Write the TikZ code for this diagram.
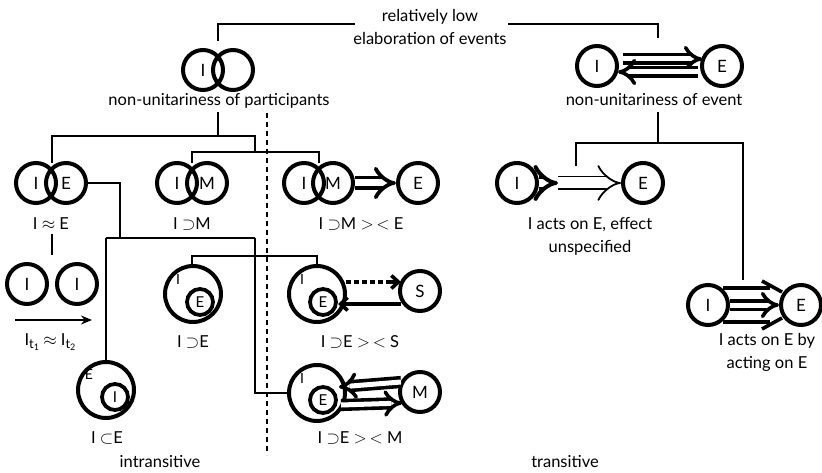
\documentclass[tikz,border=0pt]{standalone}
\usepackage{fontspec}
\setmainfont{Lato}
\usetikzlibrary{arrows.meta}
\begin{document}
\begin{tikzpicture}[x=1pt,y=-1pt,
 ci/.style={circle,draw,line width=4pt,minimum size=40pt,inner sep=0pt,font=\fontsize{17}{17}\selectfont},
 big/.style={circle,draw,line width=4pt,minimum size=56pt,inner sep=0pt},
 small/.style={circle,draw,line width=3.8pt,minimum size=26pt,inner sep=0pt,font=\fontsize{15}{15}\selectfont},
 tiny/.style={inner sep=0pt,font=\fontsize{14}{14}\selectfont},
 conn/.style={line width=1.8pt},
 lab/.style={font=\fontsize{16.5}{23}\selectfont, align=center, inner sep=0pt},
 dbl/.style={double, double distance=5pt, line width=3.6pt, -{Implies}},
 barb/.style={line width=3.6pt, -{Straight Barb[length=7pt,width=13pt,line width=3.6pt]}},
]
\useasboundingbox (0,0) rectangle (822,473);
% top label
\node[lab] (top) at (430,27) {relatively low\\elaboration of events};
\coordinate (t1) at (218,24); \coordinate (t2) at (355,24);
\coordinate (t3) at (508,24); \coordinate (t4) at (658,24);
\draw[conn] (218,41) -- (t1) -- (t2);
\draw[conn] (t3) -- (t4) -- (658,38);
% participants
\node[ci] (PI) at (203,70) {I};
\node[ci] (PE) at (233,70) {};
\node[lab] (Plab) at (219,101) {non-unitariness of participants};
\draw[conn] (218,112) -- (218,136);
\draw[conn] (52,163) -- (52,136) -- (255,136) -- (255,152);
\draw[conn] (192,163) -- (192,152) -- (319,152) -- (319,163);
% dashed divider
\draw[line width=1.2pt, dash pattern=on 5pt off 4pt] (267,113) -- (267,455);
% row 2
\node[ci] (A1) at (36,183) {I};
\node[ci] (A2) at (66,183) {E};
\node[lab] (Alab) at (51,224) {I $\approx$ E};
\node[ci] (B1) at (177,183) {I};
\node[ci] (B2) at (207,183) {M};
\node[lab] (Blab) at (192,224) {I $\supset$M};
\node[ci] (C1) at (304,183) {I};
\node[ci] (C2) at (333,183) {M};
\node[ci] (C3) at (418,183) {E};
\node[lab] (Clab) at (361,224) {I $\supset$M $>$\,$<$ E};
\draw[dbl, double distance=7pt, line width=3.8pt] (C2.east) -- (C3.west);
% connectors from I~E
\draw[conn] (A2.east) -- (120,183) -- (120,238);
\draw[conn] (106,238) -- (255,238);
\draw[conn] (52,234) -- (52,255);
% row 3
\node[ci] (D1) at (27,284) {I};
\node[ci] (D2) at (77,284) {I};
\coordinate (d1) at (15,320); \coordinate (d2) at (92,320);
\draw[line width=1.8pt, -{Stealth[length=11pt,width=9pt]}] (d1) -- (d2);
\node[lab] (Dlab) at (50,342) {I\raisebox{-3pt}{\fontsize{13}{13}\selectfont t\raisebox{-2pt}{\fontsize{9}{9}\selectfont 1}} $\approx$ I\raisebox{-3pt}{\fontsize{13}{13}\selectfont t\raisebox{-2pt}{\fontsize{9}{9}\selectfont 2}}};
% I subset E
\node[big] (G) at (106,390) {};
\node[small] (Gi) at (115,397) {I};
\node[tiny] (Ge) at (89,374) {E};
\node[lab] (Glab) at (107,438) {I $\subset$E};
\draw[conn] (106,238) -- (G.north);
\node[lab] (intr) at (160,462) {intransitive};
% I sup E
\node[big] (H1) at (193,294) {};
\node[small] (H1e) at (200,302) {E};
\node[tiny] (H1i) at (178,279) {I};
\node[lab] (H1lab) at (193,342) {I $\supset$E};
% I sup E >< S
\node[big] (H2) at (317,294) {};
\node[small] (H2e) at (323,302) {E};
\node[tiny] (H2i) at (302,279) {I};
\node[ci] (S) at (420,291) {S};
\node[lab] (H2lab) at (360,342) {I $\supset$E $>$\,$<$ S};
\draw[conn] (192,266) -- (192,256) -- (317,256) -- (317,266);
\draw[line width=4pt, dash pattern=on 5pt off 3pt] (346,282) -- (392,282);
\draw[barb] (390,282) -- (401,282);
\draw[barb] (401,304) -- (338,304);
% I sup E >< M
\node[big] (H3) at (317,393) {};
\node[small] (H3e) at (323,400) {E};
\node[tiny] (H3i) at (302,378) {I};
\node[ci] (M) at (420,392) {M};
\node[lab] (H3lab) at (360,438) {I $\supset$E $>$\,$<$ M};
\draw[conn] (255,238) -- (255,393) -- (H3.west);
\draw[dbl] (401,382) -- (339,387);
\draw[dbl] (341,405) -- (402,403);
% right side
\node[ci] (R1) at (597,66) {I};
\node[ci] (R2) at (722,66) {E};
\draw[dbl] (623,59) -- (702,59);
\draw[dbl] (698,72) -- (618,72);
\node[lab] (Rlab) at (654,100) {non-unitariness of event};
\draw[conn] (658,112) -- (658,143);
\draw[conn] (576,166) -- (576,143) -- (743,143) -- (743,280);
% acts on E, effect unspecified
\node[ci] (M1) at (517,183) {I};
\node[ci] (M2) at (643,183) {E};
\coordinate (mm) at (558,183);
\draw[double, double distance=11pt, line width=1.8pt, -{Implies}] (mm) -- (M2.west);
\draw[double, double distance=8pt, line width=4pt, -{Implies}] (M1.east) -- (mm);
\node[lab] (Mlab) at (590,236) {I acts on E, effect\\unspecified};
% acts on E by acting on E
\node[ci] (N1) at (708,305) {I};
\node[ci] (N2) at (801,305) {E};
\draw[line width=3.6pt] (723,288) -- (770,288);
\draw[line width=3.6pt] (723,322) -- (770,322);
\draw[line width=3.6pt] (762,281) -- (782,292);
\draw[line width=3.6pt] (762,329) -- (782,318);
\draw[dbl] (N1.east) -- (N2.west);
\node[lab] (Nlab) at (767,352) {I acts on E by\\acting on E};
\node[lab] (trans) at (565,462) {transitive};
\end{tikzpicture}
\end{document}
